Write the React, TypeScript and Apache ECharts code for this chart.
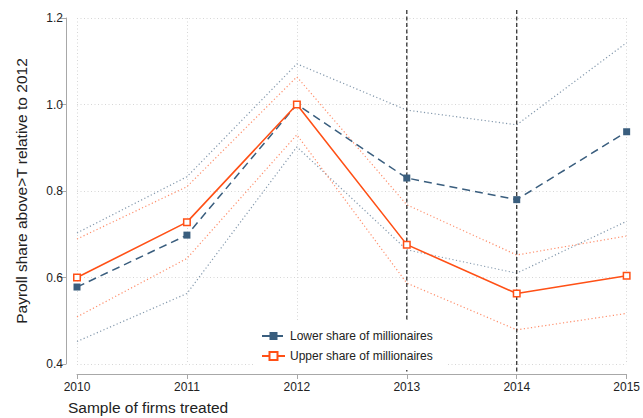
import React, { useEffect, useRef } from "react";
import * as echarts from "echarts";

const years = ["2010", "2011", "2012", "2013", "2014", "2015"];
const lowerShare = [0.578, 0.698, 1.0, 0.83, 0.78, 0.937];
const lowerShareHi = [0.703, 0.833, 1.094, 0.987, 0.953, 1.143];
const lowerShareLo = [0.452, 0.563, 0.902, 0.664, 0.61, 0.73];
const upperShare = [0.6, 0.728, 1.0, 0.676, 0.563, 0.604];
const upperShareHi = [0.689, 0.81, 1.064, 0.768, 0.652, 0.696];
const upperShareLo = [0.509, 0.644, 0.93, 0.587, 0.479, 0.517];
const markedYears = ["2013", "2014"];

const BLUE = "#3a5e7e";
const ORANGE = "#ff5016";
const BLUE_CI = "#8499ad";
const ORANGE_CI = "#ff8f6c";
const FONT = "Liberation Sans, Arial, sans-serif";

export default function App() {
  const ref = useRef<HTMLDivElement>(null);
  useEffect(() => {
    if (!ref.current) return;
    const chart = echarts.init(ref.current, null, { renderer: "svg" });
    const ci = (name: string, data: number[], color: string) => ({
      name,
      type: "line",
      data,
      symbol: "none",
      silent: true,
      lineStyle: { color, width: 1.2, type: [1.2, 2.4] },
      z: 1,
    });
    chart.setOption({
      animation: false,
      backgroundColor: "#fff",
      textStyle: { fontFamily: FONT },
      grid: { left: 77, right: 16, top: 18, bottom: 54 },
      xAxis: {
        type: "category",
        data: years,
        boundaryGap: false,
        offset: 10,
        axisLine: { lineStyle: { color: "#a8a8a8", width: 1 } },
        axisTick: { show: true, length: 5, lineStyle: { color: "#a8a8a8" } },
        axisLabel: { color: "#222", fontSize: 12, margin: 7, fontFamily: FONT },
        splitLine: { show: true, lineStyle: { color: "#d6d6d6", type: [1, 2.5], width: 1 } },
      },
      yAxis: {
        type: "value",
        min: 0.4,
        max: 1.2,
        interval: 0.2,
        offset: 11,
        name: "Payroll share above>T relative to 2012",
        nameLocation: "middle",
        nameGap: 37,
        nameTextStyle: { color: "#222", fontSize: 15.5, fontFamily: FONT },
        axisLine: { show: true, lineStyle: { color: "#a8a8a8", width: 1 } },
        axisTick: { show: true, length: 6, lineStyle: { color: "#a8a8a8" } },
        axisLabel: {
          color: "#222",
          fontSize: 12,
          margin: 3,
          fontFamily: FONT,
          formatter: (v: number) => v.toFixed(1),
        },
        splitLine: { show: true, lineStyle: { color: "#d6d6d6", type: [1, 2.5], width: 1 } },
      },
      legend: {
        data: ["Lower share of millionaires", "Upper share of millionaires"],
        orient: "vertical",
        left: 253,
        top: 322,
        padding: [8, 14, 8, 8],
        itemGap: 8,
        itemWidth: 23,
        itemHeight: 10,
        backgroundColor: "#fff",
        z: 10,
        textStyle: { color: "#222", fontSize: 12, fontFamily: FONT },
      },
      series: [
        ci("lowerHi", lowerShareHi, BLUE_CI),
        ci("lowerLo", lowerShareLo, BLUE_CI),
        ci("upperHi", upperShareHi, ORANGE_CI),
        ci("upperLo", upperShareLo, ORANGE_CI),
        {
          name: "Lower share of millionaires",
          type: "line",
          data: lowerShare,
          symbol: "rect",
          symbolSize: 7,
          lineStyle: { color: BLUE, width: 1.5, type: [8, 5] },
          itemStyle: { color: BLUE, borderColor: BLUE, borderWidth: 0 },
          z: 3,
        },
        {
          name: "Upper share of millionaires",
          type: "line",
          data: upperShare,
          symbol: "rect",
          symbolSize: 6.5,
          lineStyle: { color: ORANGE, width: 1.6, type: "solid" },
          itemStyle: { color: "#fff", borderColor: ORANGE, borderWidth: 1.5 },
          z: 4,
        },
      ],
    });
    const lines = markedYears.map((yr) => {
      const x = chart.convertToPixel({ xAxisIndex: 0 }, yr) as number;
      return {
        type: "line",
        z: 2,
        shape: { x1: x, y1: 10, x2: x, y2: 374 },
        style: { stroke: "#333", lineWidth: 1.3, lineDash: [4, 2.5] },
      };
    });
    chart.setOption({
      graphic: [
        ...lines,
        {
          type: "text",
          left: 68,
          top: 399,
          style: { text: "Sample of firms treated", fill: "#222", fontSize: 15.5, fontFamily: FONT },
        },
      ],
    });
    return () => chart.dispose();
  }, []);
  return (
    <div
      ref={ref}
      style={{ position: "fixed", left: 0, top: 0, width: 643, height: 418 }}
    />
  );
}
